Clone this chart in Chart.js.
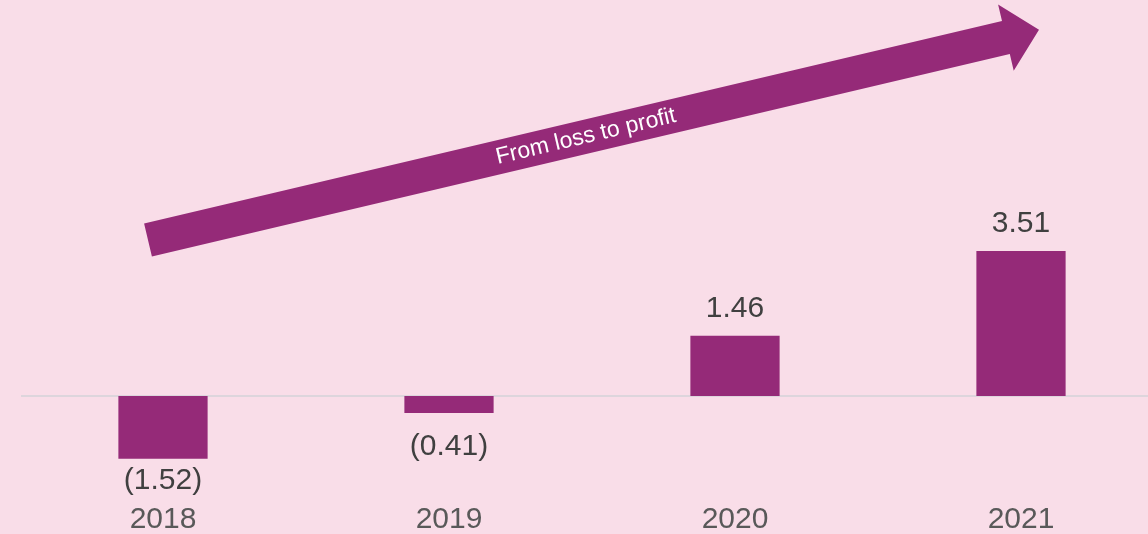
<!DOCTYPE html>
<html>
<head>
<meta charset="utf-8">
<script src="https://cdn.jsdelivr.net/npm/chart.js@4"></script>
<style>
  html, body { margin: 0; padding: 0; background: #F9DDE8; overflow: hidden; }
  #wrap { width: 1164px; height: 534px; }
</style>
</head>
<body>
<div id="wrap"><canvas id="profitChart" width="1164" height="534"></canvas></div>
<script>
// data
const years = ['2018', '2019', '2020', '2021'];
const profit = [-1.52, -0.41, 1.46, 3.51];
const arrowText = 'From loss to profit';

const barColor = '#952A78';

function fmt(v) {
  return v < 0 ? '(' + Math.abs(v).toFixed(2) + ')' : v.toFixed(2);
}

// thin zero line under the bars
const zeroLine = {
  id: 'zeroLine',
  beforeDatasetsDraw(chart) {
    const { ctx, chartArea, scales } = chart;
    const y = scales.y.getPixelForValue(0);
    ctx.save();
    ctx.strokeStyle = '#DDD5DC';
    ctx.lineWidth = 2;
    ctx.beginPath();
    ctx.moveTo(chartArea.left + 1, y);
    ctx.lineTo(chartArea.right, y);
    ctx.stroke();
    ctx.restore();
  }
};

// value labels above/below each bar
const valueLabels = {
  id: 'valueLabels',
  afterDatasetsDraw(chart) {
    const ctx = chart.ctx;
    const meta = chart.getDatasetMeta(0);
    const zeroY = chart.scales.y.getPixelForValue(0);
    ctx.save();
    ctx.font = '30px "Liberation Sans", Arial, sans-serif';
    ctx.fillStyle = '#404040';
    ctx.textAlign = 'center';
    ctx.textBaseline = 'alphabetic';
    meta.data.forEach((bar, i) => {
      const v = profit[i];
      if (v >= 0) ctx.fillText(fmt(v), bar.x, bar.y - 19);
      else ctx.fillText(fmt(v), bar.x, Math.max(bar.y + 30, zeroY + 59));
    });
    ctx.restore();
  }
};

// big diagonal arrow, anchored to the scales
const trendArrow = {
  id: 'trendArrow',
  afterDatasetsDraw(chart) {
    const xs = chart.scales.x, ys = chart.scales.y;
    const x0 = xs.getPixelForValue(0) - 15, y0 = ys.getPixelForValue(3.78);
    const x1 = xs.getPixelForValue(3) + 18, y1 = ys.getPixelForValue(8.87);
    const ang = Math.atan2(y1 - y0, x1 - x0);
    const len = Math.hypot(x1 - x0, y1 - y0);
    const half = 17, headLen = 34, headHalf = 34;
    const ctx = chart.ctx;
    ctx.save();
    ctx.translate(x0, y0);
    ctx.rotate(ang);
    ctx.fillStyle = barColor;
    ctx.beginPath();
    ctx.moveTo(0, -half);
    ctx.lineTo(len - headLen, -half);
    ctx.lineTo(len - headLen, -headHalf);
    ctx.lineTo(len, 0);
    ctx.lineTo(len - headLen, headHalf);
    ctx.lineTo(len - headLen, half);
    ctx.lineTo(0, half);
    ctx.closePath();
    ctx.fill();
    ctx.font = '23px "Liberation Sans", Arial, sans-serif';
    ctx.fillStyle = '#FFFFFF';
    ctx.textAlign = 'center';
    ctx.textBaseline = 'middle';
    ctx.fillText(arrowText, 450, 0);
    ctx.restore();
  }
};

new Chart(document.getElementById('profitChart'), {
  type: 'bar',
  data: {
    labels: years,
    datasets: [{
      data: profit,
      backgroundColor: barColor,
      barPercentage: 0.312,
      categoryPercentage: 1
    }]
  },
  options: {
    responsive: false,
    animation: false,
    layout: { padding: { left: 20, right: 0, top: 0, bottom: -7 } },
    plugins: { legend: { display: false }, tooltip: { enabled: false } },
    scales: {
      x: {
        grid: { display: false },
        border: { display: false },
        ticks: {
          color: '#595959',
          font: { family: '"Liberation Sans", Arial, sans-serif', size: 30 },
          padding: 3
        }
      },
      y: {
        min: -2.30,
        max: 9.59,
        grid: { display: false, drawTicks: false },
        border: { display: false },
        ticks: { display: false }
      }
    }
  },
  plugins: [zeroLine, valueLabels, trendArrow]
});
</script>
</body>
</html>
